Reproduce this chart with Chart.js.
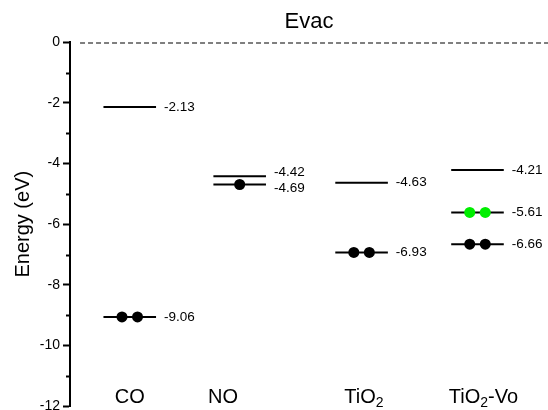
<!DOCTYPE html>
<html>
<head>
<meta charset="utf-8">
<script src="https://cdn.jsdelivr.net/npm/chart.js@4"></script>
<style>
  html, body { margin: 0; padding: 0; background: #fff; }
  #wrap { width: 548px; height: 410px; }
</style>
</head>
<body>
<div id="wrap"><canvas id="levels"></canvas></div>
<script>
const categories = ['CO', 'NO', 'TiO2', 'TiO2-Vo']
const coLevels = [-2.13, -9.06]
const noLevels = [-4.42, -4.69]
const tio2Levels = [-4.63, -6.93]
const tio2VoLevels = [-4.21, -5.61, -6.66]
// electrons sitting on each level
const coElectrons = [0, 2]
const noElectrons = [0, 1]
const tio2Electrons = [0, 2]
const tio2VoElectrons = [0, 2, 2]
const vacuumLevel = 0
const yTicks = [0, -2, -4, -6, -8, -10, -12]
const yMinorTicks = [-1, -3, -5, -7, -9, -11]

const FONT = "'Liberation Sans', Arial, sans-serif"
// layout, in units of the hidden 0..4 x axis
const slotX = [0.5, 1.42, 2.44, 3.41]
const nameX = [0.5, 1.28, 2.46, 3.46]
const halfWidth = 0.22
const electronGap = 0.065

const allLevels = [coLevels, noLevels, tio2Levels, tio2VoLevels]
const allElectrons = [coElectrons, noElectrons, tio2Electrons, tio2VoElectrons]

const datasets = [{
  data: [{x: 0.084, y: vacuumLevel}, {x: 4, y: vacuumLevel}],
  showLine: true,
  borderColor: '#000',
  borderWidth: 2,
  borderDash: [5, 3],
  pointRadius: 0,
  order: 1
}]

allLevels.forEach((levels, i) => {
  levels.forEach((v, j) => {
    datasets.push({
      data: [{x: slotX[i] - halfWidth, y: v}, {x: slotX[i] + halfWidth, y: v}],
      showLine: true,
      borderColor: '#000',
      borderWidth: 2,
      pointRadius: 0,
      order: 1
    })
    const n = allElectrons[i][j]
    if (n) {
      const xs = n === 2 ? [slotX[i] - electronGap, slotX[i] + electronGap] : [slotX[i]]
      // the oxygen vacancy state is drawn green
      const vacancy = categories[i] === 'TiO2-Vo' && j === 1
      datasets.push({
        data: xs.map(x => ({x, y: v})),
        showLine: false,
        pointRadius: 5.5,
        pointBorderWidth: 0,
        pointBackgroundColor: vacancy ? '#00ee00' : '#000',
        order: 0
      })
    }
  })
})

function drawName(ctx, text, cx, baseline) {
  const parts = text.split(/(\d)/).filter(Boolean)
  const big = `20px ${FONT}`
  const small = `14px ${FONT}`
  let w = 0
  parts.forEach(p => { ctx.font = /\d/.test(p) ? small : big; w += ctx.measureText(p).width })
  let xx = cx - w / 2
  parts.forEach(p => {
    const sub = /\d/.test(p)
    ctx.font = sub ? small : big
    ctx.fillText(p, xx, baseline + (sub ? 4 : 0))
    xx += ctx.measureText(p).width
  })
}

const labelPlugin = {
  id: 'levelLabels',
  afterDatasetsDraw(chart) {
    const {ctx, scales: {x, y}, chartArea} = chart
    ctx.save()
    ctx.fillStyle = '#000'
    ctx.strokeStyle = '#000'

    // minor ticks
    ctx.lineWidth = 2
    yMinorTicks.forEach(v => {
      const py = Math.round(y.getPixelForValue(v)) + 0.5
      ctx.beginPath()
      ctx.moveTo(chartArea.left - 4, py)
      ctx.lineTo(chartArea.left, py)
      ctx.stroke()
    })

    // value labels next to the levels
    ctx.font = `13.5px ${FONT}`
    ctx.textBaseline = 'middle'
    ctx.textAlign = 'left'
    allLevels.forEach((levels, i) => {
      const px = x.getPixelForValue(slotX[i] + halfWidth) + 8
      const ys = levels.map(v => y.getPixelForValue(v))
      const idx = ys.map((p, k) => k).sort((a, b) => ys[a] - ys[b])
      const placed = ys.slice()
      for (let k = 1; k < idx.length; k++) {
        const prev = placed[idx[k - 1]]
        const cur = placed[idx[k]]
        if (cur - prev < 16) {
          const mid = (prev + cur) / 2
          placed[idx[k - 1]] = mid - 8
          placed[idx[k]] = mid + 8
        }
      }
      levels.forEach((v, k) => ctx.fillText(v.toFixed(2), px, placed[k]))
    })

    // category names
    ctx.textBaseline = 'alphabetic'
    const baseline = y.getPixelForValue(-12) - 3.5
    categories.forEach((c, i) => drawName(ctx, c, x.getPixelForValue(nameX[i]), baseline))
    ctx.restore()
  }
}

new Chart(document.getElementById('levels'), {
  type: 'scatter',
  data: { datasets },
  plugins: [labelPlugin],
  options: {
    responsive: true,
    maintainAspectRatio: false,
    animation: false,
    layout: { autoPadding: false, padding: { left: 0, right: 0, top: 0, bottom: 4 } },
    plugins: {
      legend: { display: false },
      tooltip: { enabled: false },
      title: {
        display: true,
        text: 'Evac',
        fullSize: false,
        color: '#000',
        font: { size: 22, family: FONT, weight: 'normal' },
        padding: { top: 9, bottom: 7 }
      }
    },
    scales: {
      x: { type: 'linear', min: 0, max: 4, display: false },
      y: {
        min: -12,
        max: 0,
        afterBuildTicks: s => { s.ticks = yTicks.map(v => ({ value: v })) },
        ticks: { color: '#000', font: { size: 14, family: FONT }, padding: 3 },
        grid: { drawOnChartArea: false, drawTicks: true, tickLength: 7, tickWidth: 2, tickColor: '#000' },
        border: { display: true, color: '#000', width: 2 },
        title: {
          display: true,
          text: 'Energy (eV)',
          color: '#000',
          font: { size: 20, family: FONT },
          padding: { top: 11, bottom: 0 }
        },
        afterFit: s => { s.width = 70; s.paddingTop = 0; s.paddingBottom = 0 }
      }
    }
  }
})
</script>
</body>
</html>
